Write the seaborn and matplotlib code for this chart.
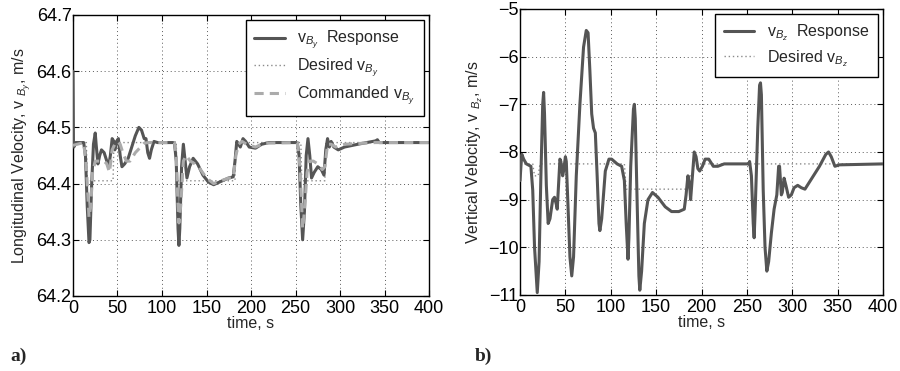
import numpy as np
import pandas as pd
import matplotlib
matplotlib.use("Agg")
import matplotlib.pyplot as plt
import seaborn as sns

# ---------------- data ----------------
t_resp_y = [0, 0.5, 1, 3, 12, 14, 16, 18, 19, 21, 23, 25, 26, 28, 30, 32, 35, 38, 40, 42, 44, 46, 47, 49, 51,
            53, 55, 58, 62, 66, 70, 74, 77, 80, 82, 84, 86, 88, 91, 95, 114, 116, 118, 119, 120, 122, 124, 126,
            128, 131, 135, 140, 146, 152, 158, 165, 175, 180, 182, 184, 186, 188, 191, 194, 198, 205, 212, 220,
            252, 254, 256, 258, 260, 262, 264, 266, 268, 271, 275, 279, 282, 284, 286, 288, 290, 293, 298, 305,
            320, 340, 342, 344, 400]
v_resp_y = [64.60, 64.475, 64.465, 64.473, 64.473, 64.45, 64.36, 64.295, 64.30, 64.40, 64.47, 64.49, 64.47,
            64.435, 64.45, 64.46, 64.455, 64.44, 64.43, 64.45, 64.48, 64.475, 64.46, 64.475, 64.48, 64.45, 64.43,
            64.435, 64.445, 64.465, 64.485, 64.50, 64.495, 64.48, 64.48, 64.455, 64.445, 64.46, 64.475, 64.473,
            64.473, 64.44, 64.32, 64.29, 64.32, 64.43, 64.47, 64.44, 64.41, 64.43, 64.445, 64.435, 64.415, 64.403,
            64.398, 64.403, 64.41, 64.412, 64.44, 64.475, 64.47, 64.465, 64.48, 64.475, 64.465, 64.463, 64.47,
            64.473, 64.473, 64.45, 64.36, 64.30, 64.35, 64.45, 64.48, 64.45, 64.41, 64.42, 64.43, 64.425, 64.415,
            64.46, 64.48, 64.465, 64.475, 64.465, 64.46, 64.465, 64.47, 64.476, 64.478, 64.473, 64.473]

t_des_y = [0, 15, 16, 45, 46, 116, 117, 182, 183, 256, 257, 283, 284, 400]
v_des_y = [64.473, 64.473, 64.405, 64.405, 64.473, 64.473, 64.405, 64.405, 64.473, 64.473, 64.405, 64.405,
           64.473, 64.473]

t_cmd_y = [0, 12, 15, 18, 20, 22, 25, 30, 35, 38, 41, 44, 47, 50, 53, 56, 60, 64, 70, 76, 80, 85, 114, 116,
           118, 119, 121, 124, 127, 132, 140, 150, 158, 175, 180, 183, 186, 190, 195, 205, 215, 252, 255, 258,
           260, 263, 266, 270, 275, 280, 283, 286, 290, 295, 305, 340, 400]
v_cmd_y = [64.468, 64.473, 64.43, 64.34, 64.36, 64.42, 64.44, 64.44, 64.44, 64.435, 64.42, 64.46, 64.47,
           64.475, 64.47, 64.455, 64.44, 64.44, 64.455, 64.465, 64.472, 64.473, 64.473, 64.45, 64.36, 64.33,
           64.36, 64.44, 64.45, 64.44, 64.432, 64.41, 64.40, 64.41, 64.41, 64.45, 64.47, 64.475, 64.47, 64.465,
           64.472, 64.473, 64.43, 64.32, 64.35, 64.42, 64.44, 64.44, 64.435, 64.425, 64.43, 64.47, 64.47,
           64.465, 64.47, 64.473, 64.473]

t_resp_z = [0, 1, 2, 4, 7, 12, 14, 16, 19, 21, 23, 25, 26, 27, 29, 31, 33, 36, 38, 40, 41, 43, 44, 45, 47, 48,
            50, 51, 53, 55, 57, 59, 62, 66, 70, 73, 75, 77, 79, 81, 83, 85, 87, 88, 90, 94, 98, 101, 107, 112,
            115, 117, 119, 120, 122, 125, 126, 127, 129, 131, 132, 134, 137, 141, 146, 152, 160, 167, 175, 181,
            183, 185, 187, 188, 190, 192, 194, 196, 198, 201, 204, 208, 213, 218, 225, 252, 253, 255, 257, 258,
            259, 262, 264, 265, 266, 268, 270, 272, 274, 277, 280, 283, 285, 286, 288, 289, 291, 293, 296, 299,
            302, 306, 310, 314, 320, 330, 337, 340, 343, 347, 352, 400]
v_resp_z = [-8.6, -8.3, -8.05, -8.15, -8.25, -8.3, -8.8, -10.0, -10.95, -10.3, -8.5, -7.0, -6.75, -7.2, -8.7,
            -9.5, -9.4, -9.0, -8.95, -9.1, -9.2, -8.5, -8.15, -8.2, -8.5, -8.4, -8.1, -8.2, -9.2, -10.2, -10.6,
            -10.2, -8.5, -7.0, -5.8, -5.45, -5.5, -6.3, -7.2, -7.5, -7.6, -8.5, -9.5, -9.65, -9.4, -8.4, -8.15,
            -8.15, -8.25, -8.3, -8.6, -9.5, -10.25, -9.8, -8.3, -7.1, -7.0, -7.3, -9.0, -10.6, -10.9, -10.5,
            -9.5, -9.0, -8.85, -8.95, -9.15, -9.25, -9.25, -9.2, -8.9, -8.5, -8.7, -9.0, -8.5, -8.0, -8.1,
            -8.35, -8.4, -8.3, -8.15, -8.15, -8.3, -8.3, -8.25, -8.25, -8.2, -8.5, -9.5, -9.8, -9.3, -7.5, -6.6,
            -6.55, -6.8, -8.8, -10.0, -10.5, -10.3, -9.7, -9.2, -8.9, -8.3, -8.3, -8.9, -8.85, -8.55, -8.7,
            -8.95, -8.9, -8.75, -8.7, -8.75, -8.78, -8.6, -8.3, -8.05, -8.0, -8.1, -8.3, -8.27, -8.25]

t_des_z = [0, 14, 16, 20, 22, 115, 117, 185, 187, 190, 192, 400]
v_des_z = [-8.25, -8.25, -8.5, -8.5, -8.25, -8.25, -8.78, -8.78, -8.5, -8.5, -8.25, -8.25]

xticks = [0, 50, 100, 150, 200, 250, 300, 350, 400]
yticks_a = [64.2, 64.3, 64.4, 64.5, 64.6, 64.7]
yticks_b = [-11, -10, -9, -8, -7, -6, -5]

# ---------------- style ----------------
sns.set_style("ticks")
plt.rcParams['font.family'] = ['Liberation Sans', 'DejaVu Sans']
plt.rcParams['mathtext.fontset'] = 'custom'
plt.rcParams['mathtext.rm'] = 'Liberation Sans'
plt.rcParams['mathtext.it'] = 'Liberation Sans:italic'
plt.rcParams['mathtext.bf'] = 'Liberation Sans:bold'

fig = plt.figure(figsize=(9, 3.71), dpi=100)
axA = fig.add_axes([0.0811, 0.2022, 0.3956, 0.7574])
axB = fig.add_axes([0.5778, 0.2049, 0.4033, 0.7709])

c_resp = '#555555'
c_des = '#8a8a8a'
c_cmd = '#ababab'

dfa_r = pd.DataFrame({'t': t_resp_y, 'v': v_resp_y})
dfa_d = pd.DataFrame({'t': t_des_y, 'v': v_des_y})
dfa_c = pd.DataFrame({'t': t_cmd_y, 'v': v_cmd_y})
sns.lineplot(data=dfa_r, x='t', y='v', ax=axA, color=c_resp, lw=2.2, sort=False, estimator=None,
             label=r'v$_{B_y}$  Response', zorder=3)
sns.lineplot(data=dfa_d, x='t', y='v', ax=axA, color=c_des, lw=1.0, sort=False, estimator=None,
             label=r'Desired v$_{B_y}$', zorder=2)
axA.lines[-1].set_linestyle((0, (1, 2)))
sns.lineplot(data=dfa_c, x='t', y='v', ax=axA, color=c_cmd, lw=2.2, sort=False, estimator=None,
             label=r'Commanded v$_{B_y}$', zorder=4)
axA.lines[-1].set_linestyle((0, (3, 2)))

dfb_r = pd.DataFrame({'t': t_resp_z, 'v': v_resp_z})
dfb_d = pd.DataFrame({'t': t_des_z, 'v': v_des_z})
sns.lineplot(data=dfb_d, x='t', y='v', ax=axB, color=c_des, lw=1.0, sort=False, estimator=None,
             label=r'Desired v$_{B_z}$', zorder=2)
axB.lines[-1].set_linestyle((0, (1, 2)))
sns.lineplot(data=dfb_r, x='t', y='v', ax=axB, color=c_resp, lw=2.2, sort=False, estimator=None,
             label=r'v$_{B_z}$  Response', zorder=3)

for ax, yt, ylim in [(axA, yticks_a, (64.2, 64.7)), (axB, yticks_b, (-11, -5))]:
    ax.set_xlim(0, 400)
    ax.set_ylim(*ylim)
    ax.set_xticks(xticks)
    ax.set_yticks(yt)
    ax.set_xticklabels([str(v) for v in xticks])
    ax.grid(True, linestyle=(0, (1, 3)), color='0.35', lw=0.7)
    ax.tick_params(direction='in', top=True, right=True, labelsize=13, length=4, width=0.8, pad=1,
                   colors='black')
    ax.tick_params(axis='x', pad=3)
    for s in ax.spines.values():
        s.set_visible(True)
        s.set_linewidth(1.0)
        s.set_color('black')
    ax.set_xlabel('time, s', fontsize=11.5, labelpad=-1)

axA.set_yticklabels([f'{v:.1f}' for v in yticks_a])
axB.set_yticklabels([f'\u2212{abs(v)}' for v in yticks_b])
axA.set_ylabel(r'Longitudinal Velocity, v $_{B_y}$, m/s', fontsize=11.5, labelpad=2)
axB.set_ylabel(r'Vertical Velocity, v $_{B_z}$, m/s', fontsize=11.5, labelpad=2)

leg_kw = dict(loc='upper right', fontsize=11.5, frameon=True, fancybox=False, framealpha=1,
              edgecolor='black', handlelength=1.9, handletextpad=0.8, labelspacing=0.3,
              borderaxespad=0.3, borderpad=0.55)
legA = axA.legend(**leg_kw)
legA.get_frame().set_linewidth(1.0)
hB, lB = axB.get_legend_handles_labels()
legB = axB.legend([hB[1], hB[0]], [lB[1], lB[0]], **leg_kw)
legB.get_frame().set_linewidth(1.0)

fig.text(0.011, 0.028, 'a)', fontsize=14, fontweight='bold', family=['Liberation Serif', 'DejaVu Serif'])
fig.text(0.527, 0.028, 'b)', fontsize=14, fontweight='bold', family=['Liberation Serif', 'DejaVu Serif'])

fig.savefig('out.png', dpi=100, facecolor='white')
